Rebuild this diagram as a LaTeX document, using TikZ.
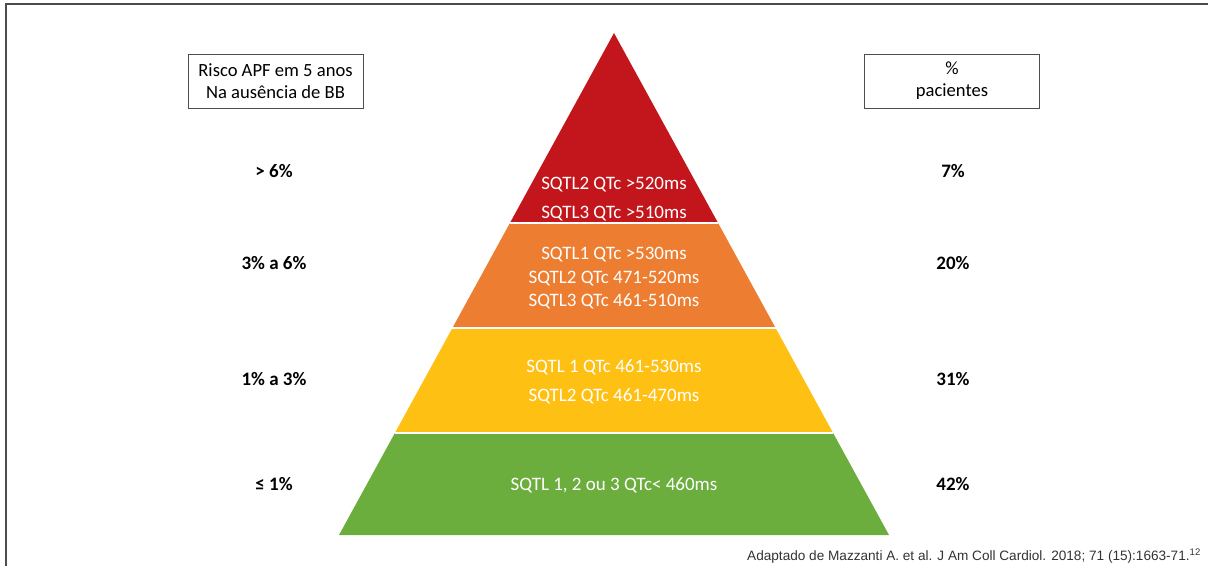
\documentclass[tikz,border=0pt]{standalone}
\usepackage{fontspec}
\setmainfont{Carlito}
\newfontfamily\capfont{Liberation Sans}
\usepackage{xcolor}
\definecolor{RiskRed}{HTML}{C3161C}
\definecolor{RiskOrange}{HTML}{ED7D31}
\definecolor{RiskYellow}{HTML}{FFC014}
\definecolor{RiskGreen}{HTML}{6CAE3E}
\definecolor{FrameGray}{HTML}{4D4D4D}

\begin{document}
\begin{tikzpicture}[x=1pt,y=-1pt,every node/.style={align=center,inner sep=0pt},
    band/.style={font=\fontsize{19}{#1}\selectfont,text=white},
    level/.style={font=\fontsize{19}{22}\selectfont\bfseries},
    headbox/.style={draw=FrameGray,line width=0.9pt,minimum width=175pt,minimum height=54pt,font=\fontsize{18.6}{22}\selectfont}]
    \useasboundingbox (0,0) rectangle (1208,566);
    \draw[FrameGray,line width=2.5pt] (6,566) -- (6,4) -- (1208,4);
    % pyramid: apex (614,33), base at 535
    \foreach \ya/\yb/\col in {33/223/RiskRed,223/328/RiskOrange,328/433/RiskYellow,433/535/RiskGreen}{\fill[\col] ({614-0.5478*(\ya-33)},\ya) -- ({614+0.5478*(\ya-33)},\ya) -- ({614+0.5478*(\yb-33)},\yb) -- ({614-0.5478*(\yb-33)},\yb) -- cycle;}
    \foreach \y in {223,328,433}{\draw[white,line width=1.5pt] ({614-0.5478*(\y-33)},\y) -- ({614+0.5478*(\y-33)},\y);}
    \node[band=28.5] (red) at (614,199) {SQTL2 QTc >520ms\\SQTL3 QTc >510ms};
    \node[band=23.5] (orange) at (614,278.5) {SQTL1 QTc >530ms\\SQTL2 QTc 471-520ms\\SQTL3 QTc 461-510ms};
    \node[band=29] (yellow) at (614,381.5) {SQTL 1 QTc 461-530ms\\SQTL2 QTc 461-470ms};
    \node[band=22] (green) at (614,485) {SQTL 1, 2 ou 3 QTc< 460ms};
    \node[headbox] (riskbox) at (275.5,81) {Risco APF em 5 anos\\Na ausência de BB};
    \node[headbox] (pctbox) at (952,81) {\%\\pacientes};
    \foreach \y/\r/\p [count=\i] in {171/{> 6\%}/7\%,263/{3\% a 6\%}/20\%,379/{1\% a 3\%}/31\%,484/{≤ 1\%}/42\%}{\node[level] (risk\i) at (274,\y) {\r}; \node[level] (pct\i) at (953,\y) {\p};}
    \node[font=\capfont\fontsize{13.6}{16}\selectfont,text=black!80,anchor=east] (source) at (1201,556) {Adaptado de Mazzanti A. et al. J Am Coll Cardiol. 2018; 71 (15):1663-71.\textsuperscript{12}};
\end{tikzpicture}
\end{document}
